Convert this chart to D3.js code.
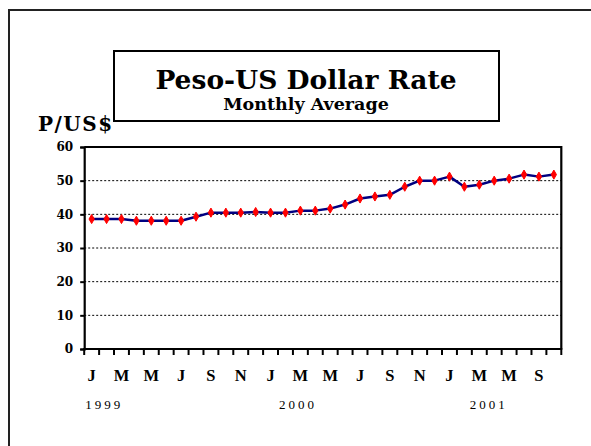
<!DOCTYPE html>
<html><head><meta charset="utf-8">
<script src="https://cdn.jsdelivr.net/npm/d3@7"></script>
<style>html,body{margin:0;padding:0;background:#fff;}svg{display:block;}</style>
</head><body>
<svg id="c" width="591" height="446"></svg>
<script>
// ---- data ----
const values = [38.6,38.6,38.6,38.1,38.1,38.1,38.1,39.3,40.5,40.5,40.5,40.7,40.5,40.5,41.1,41.1,
                41.7,42.9,44.7,45.3,45.8,48.2,50.0,50.0,51.2,48.2,48.8,50.0,50.6,51.8,51.2,51.8];
const monthLabels = ["J","M","M","J","S","N","J","M","M","J","S","N","J","M","M","S"];
const yearLabels = ["1999","2000","2001"];
const yTicks = [0,10,20,30,40,50,60];
const titleText = "Peso-US Dollar Rate";
const subtitleText = "Monthly Average";
const yAxisTitle = "P/US$";

const svg = d3.select("#c");
const L = 84.2, R = 561.3, T = 147, B = 349;
const x = d3.scaleBand().domain(d3.range(values.length)).range([L, R]);
const y = d3.scaleLinear().domain([0, 60]).range([B, T]);

// outer frame
svg.append("rect").attr("x", 9).attr("y", 10).attr("width", 700).attr("height", 600)
  .attr("fill", "none").attr("stroke", "#222").attr("stroke-width", 2);

// title box
svg.append("rect").attr("x", 114).attr("y", 51).attr("width", 385).attr("height", 70)
  .attr("fill", "#fff").attr("stroke", "#000").attr("stroke-width", 2);
svg.append("text").attr("x", 306).attr("y", 88.5).attr("text-anchor", "middle")
  .attr("font-family", "DejaVu Serif").attr("font-weight", "bold").attr("font-size", 26.5)
  .text(titleText);
svg.append("text").attr("x", 306).attr("y", 110).attr("text-anchor", "middle")
  .attr("font-family", "DejaVu Serif").attr("font-weight", "bold").attr("font-size", 17.5)
  .text(subtitleText);

// y axis title
svg.append("text").attr("x", 38).attr("y", 131)
  .attr("font-family", "DejaVu Serif").attr("font-weight", "bold").attr("font-size", 20)
  .attr("letter-spacing", 1.5)
  .text(yAxisTitle);

// gridlines
svg.append("g").selectAll("line").data(yTicks.filter(d => d > 0 && d < 60)).join("line")
  .attr("x1", L).attr("x2", R).attr("y1", d => y(d)).attr("y2", d => y(d))
  .attr("stroke", "#000").attr("stroke-width", 1).attr("stroke-dasharray", "2,2");

// plot border (top, right)
svg.append("path").attr("d", `M${L},${T}H${R}V${B}`).attr("fill", "none")
  .attr("stroke", "#000").attr("stroke-width", 2.2);

// y axis
const yAxis = d3.axisLeft(y).tickValues(yTicks).tickSize(4).tickPadding(7);
const gy = svg.append("g").attr("transform", `translate(${L},0)`).call(yAxis);
gy.select(".domain").attr("stroke-width", 2.2);
gy.selectAll(".tick line").attr("stroke-width", 2);
gy.selectAll("text").attr("font-family", "DejaVu Serif").attr("font-weight", "bold")
  .attr("font-size", 12).attr("fill", "#000");

// x axis ticks at category boundaries
const bounds = d3.range(values.length + 1).map(i => i === values.length ? R : x(i));
svg.append("line").attr("x1", L - 1).attr("x2", R + 1).attr("y1", B).attr("y2", B)
  .attr("stroke", "#000").attr("stroke-width", 2.2);
svg.append("g").selectAll("line").data(bounds).join("line")
  .attr("x1", d => d).attr("x2", d => d).attr("y1", B).attr("y2", B + 6)
  .attr("stroke", "#000").attr("stroke-width", 2);

// month labels (every other category)
svg.append("g").selectAll("text").data(monthLabels).join("text")
  .attr("x", (d, i) => x(i * 2) + x.bandwidth() / 2).attr("y", 381)
  .attr("text-anchor", "middle").attr("font-family", "Liberation Serif")
  .attr("font-weight", "bold").attr("font-size", 16.5).text(d => d);

// year labels
const yearPos = [0, 13, 25.8];
svg.append("g").selectAll("text").data(yearLabels).join("text")
  .attr("x", (d, i) => L + yearPos[i] * x.step() + 1).attr("y", 409)
  .attr("font-family", "Liberation Serif").attr("font-size", 13)
  .attr("letter-spacing", 3).text(d => d);

// line
const line = d3.line().x((d, i) => x(i) + x.bandwidth() / 2).y(d => y(d));
svg.append("path").datum(values).attr("d", line).attr("fill", "none")
  .attr("stroke", "#000080").attr("stroke-width", 2.5).attr("stroke-linejoin", "round");

// markers
svg.append("g").selectAll("path").data(values).join("path")
  .attr("transform", (d, i) => `translate(${x(i) + x.bandwidth() / 2},${y(d)})`)
  .attr("d", d3.symbol().type(d3.symbolDiamond).size(24))
  .attr("fill", "#ff0000").attr("stroke", "#ff0000").attr("stroke-width", 1)
  .attr("stroke-linejoin", "round");
</script>
</body></html>
